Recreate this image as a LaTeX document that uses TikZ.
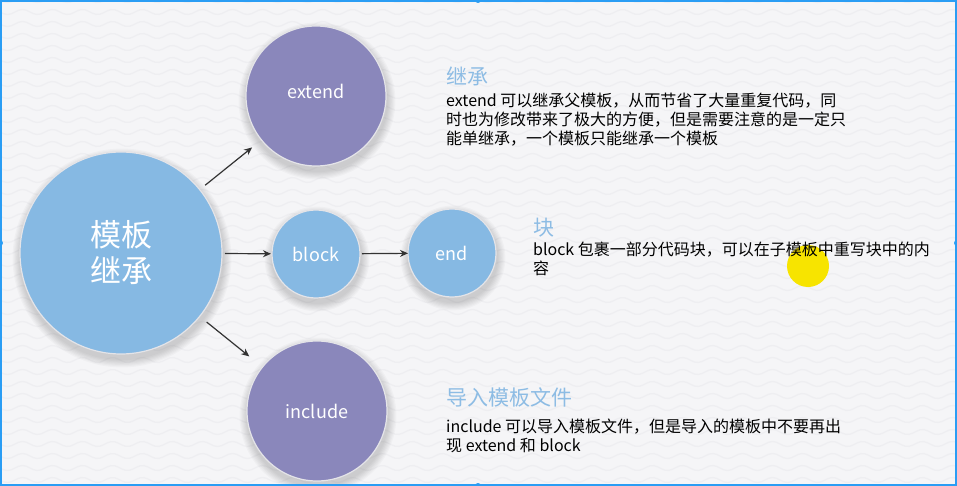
\documentclass[tikz,border=0pt]{standalone}
\usepackage{fontspec}
\setmainfont{Noto Sans CJK SC}
\usetikzlibrary{arrows.meta}

\definecolor{bgc}{HTML}{F5F5F7}
\definecolor{wavec}{HTML}{EEEEF1}
\definecolor{blueC}{HTML}{86B9E3}
\definecolor{purpleC}{HTML}{8A87BB}
\definecolor{titleC}{HTML}{8DBCE4}
\definecolor{frameC}{HTML}{2A9DF4}
\definecolor{ringC}{HTML}{E4E4E8}
\definecolor{arrowC}{HTML}{333333}
\definecolor{markC}{HTML}{F7E400}

\tikzset{
  bubble/.style={circle, draw=ringC, line width=1.2pt, inner sep=0pt, outer sep=0pt,
                 text=white, align=center},
  link/.style={draw=arrowC, line width=1.2pt, -{Stealth[length=8pt,width=7pt]}},
  heading/.style={anchor=base west, text=titleC, font=\fontsize{21}{24}\selectfont, inner sep=0pt},
  bodytext/.style={anchor=base west, text=black, align=left, inner sep=0pt,
                   font=\fontsize{16}{19}\selectfont},
  handle/.style={circle, fill=frameC, inner sep=0pt, minimum size=6pt},
}

\begin{document}
\begin{tikzpicture}[x=1pt,y=-1pt]
  % page background with faint wavy texture
  \fill[bgc] (0,0) rectangle (957,486);
  \useasboundingbox (0,0) rectangle (957,486);
  \foreach \r in {0,...,41}
    \draw[wavec, line width=1.3pt]
      plot[domain=0:957, samples=260, smooth] (\x, {\r*12 + 2.5*sin(\x*12)});

  % soft shadows under the bubbles
  \foreach \cx/\cy/\rr in {121/253/101, 316/96/70, 316/254/44, 452/253/44, 317/411/70}
    \foreach \k in {1,...,7}
      \fill[black, opacity=0.022] (\cx+1, \cy+5) circle ({\rr+\k*1.2});

  % bubbles
  \node[bubble, fill=blueC, minimum size=202pt,
        font=\fontsize{31}{36}\selectfont] (tmpl) at (121,253) {模板\\继承};
  \node[bubble, fill=purpleC, minimum size=140pt,
        font=\fontsize{18}{20}\selectfont] (ext) at (316,96) {\raisebox{9pt}{extend}};
  \node[bubble, fill=blueC, minimum size=88pt,
        font=\fontsize{18}{20}\selectfont] (blk) at (316,254) {block};
  \node[bubble, fill=blueC, minimum size=88pt,
        font=\fontsize{18}{20}\selectfont] (fin) at (452,253) {end};
  \node[bubble, fill=purpleC, minimum size=140pt,
        font=\fontsize{18}{20}\selectfont] (inc) at (317,411) {include};

  % connectors
  \draw[link, shorten <=7pt, shorten >=12pt] (tmpl) -- (ext);
  \draw[link, shorten <=3pt, shorten >=1pt] (tmpl) -- (blk);
  \draw[link, shorten <=2pt, shorten >=0pt] (blk) -- (fin);
  \draw[link, shorten <=9pt, shorten >=17pt] (tmpl) -- (inc);

  % pointer highlight
  \fill[markC] (808,266) circle (21);

  % descriptions (body nodes are placed by the baseline of their last line)
  \node[heading] (h1) at (446,85) {继承};
  \node[bodytext] (b1) at (446,145)
    {extend 可以继承父模板，从而节省了大量重复代码，同\\
     时也为修改带来了极大的方便，但是需要注意的是一定只\\
     能单继承，一个模板只能继承一个模板};

  \node[heading] (h2) at (533,235) {块};
  \node[bodytext] (b2) at (533,274)
    {block 包裹一部分代码块，可以在子模板中重写块中的内\\
     容};

  \node[heading] (h3) at (446,405) {导入模板文件};
  \node[bodytext] (b3) at (446,451)
    {include 可以导入模板文件，但是导入的模板中不要再出\\
     现 extend 和 block};

  % selection frame with handles
  \draw[frameC, line width=2pt] (1,1) rectangle (956,485);
  \foreach \hx/\hy in {0/0, 478/0, 957/0, 0/243, 957/243, 0/486, 478/486, 957/486}
    \node[handle] at (\hx,\hy) {};
\end{tikzpicture}
\end{document}
